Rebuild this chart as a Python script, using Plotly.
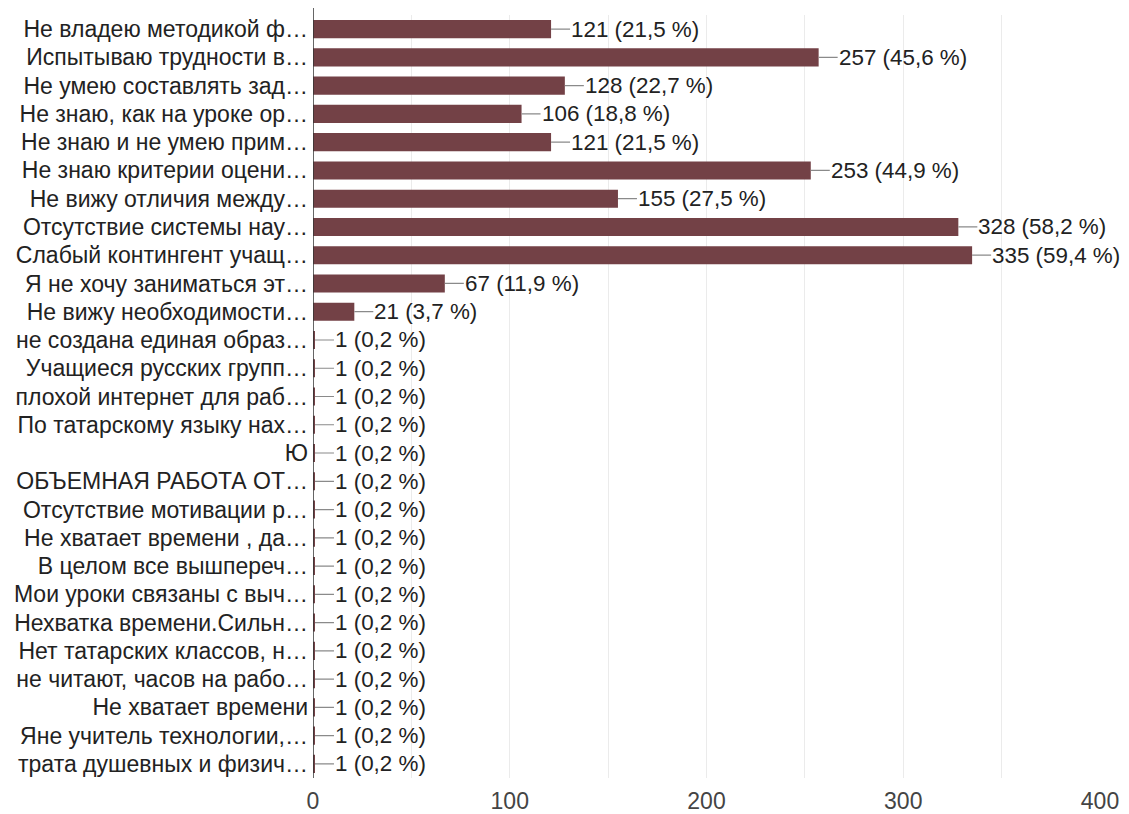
import plotly.graph_objects as go

categories = [
    "Не владею методикой ф…",
    "Испытываю трудности в…",
    "Не умею составлять зад…",
    "Не знаю, как на уроке ор…",
    "Не знаю и не умею прим…",
    "Не знаю критерии оцени…",
    "Не вижу отличия между…",
    "Отсутствие системы нау…",
    "Слабый контингент учащ…",
    "Я не хочу заниматься эт…",
    "Не вижу необходимости…",
    "не создана единая образ…",
    "Учащиеся русских групп…",
    "плохой интернет для раб…",
    "По татарскому языку нах…",
    "Ю",
    "ОБЪЕМНАЯ РАБОТА ОТ…",
    "Отсутствие мотивации р…",
    "Не хватает времени , да…",
    "В целом все вышпереч…",
    "Мои уроки связаны с выч…",
    "Нехватка времени.Сильн…",
    "Нет татарских классов, н…",
    "не читают, часов на рабо…",
    "Не хватает времени",
    "Яне учитель технологии,…",
    "трата душевных и физич…",
]
values = [121, 257, 128, 106, 121, 253, 155, 328, 335, 67, 21] + [1] * 16
percents = ["21,5", "45,6", "22,7", "18,8", "21,5", "44,9", "27,5", "58,2",
            "59,4", "11,9", "3,7"] + ["0,2"] * 16
x_ticks = [0, 100, 200, 300, 400]

FONT = "Liberation Sans, Arial, sans-serif"
FS = 23
ycats = list(range(len(categories)))

fig = go.Figure()
fig.add_trace(go.Bar(
    x=values, y=ycats, orientation="h",
    marker=dict(color="#734146", line=dict(width=0)),
    hoverinfo="skip",
))

for i, (v, p) in enumerate(zip(values, percents)):
    fig.add_annotation(
        x=v, y=i, xref="x", yref="y",
        text=f"{v} ({p} %)",
        showarrow=True, arrowhead=0, arrowwidth=1.2, arrowcolor="#8a8a8a",
        ax=19, ay=0, xanchor="left", yanchor="middle",
        standoff=0, startstandoff=0, borderpad=0,
        font=dict(family=FONT, size=22.4, color="#222222"),
    )

# page body has an 8px margin; figure sized to the visible area
fig.update_layout(
    width=1121, height=806,
    margin=dict(l=305, r=29, t=7, b=36, autoexpand=False),
    paper_bgcolor="white", plot_bgcolor="white",
    bargap=0.36, showlegend=False,
    font=dict(family=FONT, size=FS, color="#222222"),
)
fig.update_xaxes(
    range=[0, 400], tickvals=x_ticks, ticktext=[str(t) for t in x_ticks],
    showgrid=True, gridcolor="#ebebeb", gridwidth=1,
    minor=dict(dtick=50, showgrid=True, gridcolor="#ebebeb", gridwidth=1, tick0=0),
    zeroline=False, showline=False, ticks="",
    tickfont=dict(family=FONT, size=FS, color="#444444"),
    ticklabelstandoff=7, automargin=False, fixedrange=True,
)
fig.update_yaxes(
    tickvals=ycats, ticktext=categories,
    range=[len(categories) - 0.5, -0.5],
    showgrid=False, zeroline=False,
    showline=False, ticks="",
    tickfont=dict(family=FONT, size=FS, color="#222222"),
    ticklabelstandoff=4, automargin=False, fixedrange=True,
)
fig.add_shape(type="line", xref="x", yref="paper", x0=0, x1=0, y0=0, y1=1.01,
              line=dict(color="#333333", width=1.5), layer="above")

fig.write_html("out.html")
